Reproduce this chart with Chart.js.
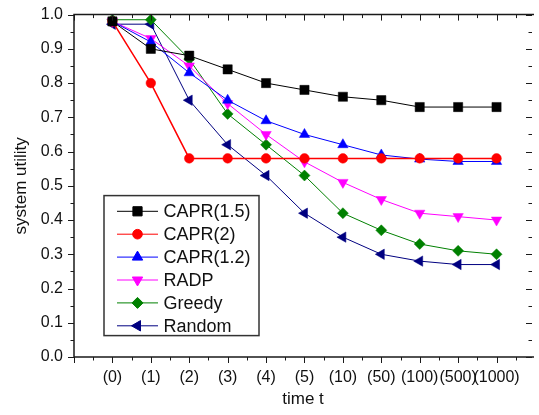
<!DOCTYPE html>
<html><head><meta charset="utf-8">
<script src="https://cdn.jsdelivr.net/npm/chart.js@4/dist/chart.umd.min.js"></script>
<style>html,body{margin:0;padding:0;background:#fff;overflow:hidden;} #wrap{width:539px;height:415px;position:relative;}</style>
</head><body><div id="wrap"><canvas id="c" width="539" height="415"></canvas></div>
<script>
const xLabels = ['(0)','(1)','(2)','(3)','(4)','(5)','(10)','(50)','(100)','(500)','(1000)'];
const seriesNames = ['CAPR(1.5)','CAPR(2)','CAPR(1.2)','RADP','Greedy','Random'];
const capr15 = [0.98,0.90,0.88,0.84,0.80,0.78,0.76,0.75,0.73,0.73,0.73];
const capr2  = [0.98,0.80,0.58,0.58,0.58,0.58,0.58,0.58,0.58,0.58,0.58];
const capr12 = [0.98,0.92,0.83,0.75,0.69,0.65,0.62,0.59,0.578,0.571,0.571];
const radp   = [0.98,0.93,0.85,0.74,0.65,0.57,0.51,0.46,0.42,0.41,0.40];
const greedy = [0.985,0.985,0.87,0.71,0.62,0.53,0.42,0.37,0.33,0.31,0.30];
const random = [0.972,0.972,0.75,0.62,0.53,0.42,0.35,0.30,0.28,0.27,0.27];
const yMin = 0, yMax = 1.0, yStep = 0.1;

const FONT = "'Liberation Sans', Arial, Helvetica, sans-serif";
const toPts = arr => arr.map((v, i) => ({x: i, y: v}));

const styles = [
  {color:'#000000', pointStyle:'rect', rotation:0, radius:6.5, lw:1},
  {color:'#FF0000', pointStyle:'circle', rotation:0, radius:4.8, lw:1.5},
  {color:'#0000FF', pointStyle:'triangle', rotation:0, radius:6, lw:1},
  {color:'#FF00FF', pointStyle:'triangle', rotation:180, radius:6, lw:1},
  {color:'#008000', pointStyle:'rectRot', rotation:0, radius:5.5, lw:1},
  {color:'#000080', pointStyle:'triangle', rotation:-90, radius:6, lw:1}
];
const allSeries = [capr15, capr2, capr12, radp, greedy, random];

const datasets = allSeries.map((s, i) => ({
  label: seriesNames[i],
  data: toPts(s),
  borderColor: styles[i].color,
  backgroundColor: styles[i].color,
  borderWidth: styles[i].lw,
  pointStyle: styles[i].pointStyle,
  rotation: styles[i].rotation,
  pointRadius: styles[i].radius,
  pointHoverRadius: styles[i].radius,
  pointBorderWidth: 0.5,
  pointBorderColor: styles[i].color,
  pointBackgroundColor: styles[i].color,
  tension: 0,
  fill: false
}));

const framePlugin = {
  id: 'frame',
  afterDraw(chart) {
    const {ctx, chartArea: a, scales} = chart;
    const xs = scales.x, ys = scales.y;
    ctx.save();
    ctx.strokeStyle = '#1a1a1a';
    ctx.lineWidth = 1.5;
    ctx.beginPath();
    ctx.moveTo(a.left, a.top); ctx.lineTo(a.left, a.bottom);
    ctx.moveTo(a.left - 0.75, a.bottom); ctx.lineTo(a.right + 2, a.bottom);
    ctx.moveTo(a.left - 0.75, a.top); ctx.lineTo(a.right + 2, a.top);
    ctx.stroke();
    ctx.lineWidth = 1;
    ctx.beginPath();
    for (let k = -2; k <= 23; k++) {
      const v = k / 2;
      if (v < xs.min - 1e-9 || v > xs.max + 1e-9) continue;
      const px = Math.round(xs.getPixelForValue(v)) + 0.5;
      const len = (k % 2 === 0) ? 6 : 3.5;
      ctx.moveTo(px, a.bottom); ctx.lineTo(px, a.bottom + len);
      ctx.moveTo(px, a.top); ctx.lineTo(px, a.top + len);
    }
    for (let k = 0; k <= 20; k++) {
      const v = k * 0.05;
      const py = Math.round(ys.getPixelForValue(v)) + 0.5;
      const len = (k % 2 === 0) ? 6 : 3.5;
      ctx.moveTo(a.left - len, py); ctx.lineTo(a.left, py);
      ctx.moveTo(a.right - len, py); ctx.lineTo(a.right, py);
    }
    ctx.stroke();
    ctx.restore();
  }
};

const legendPlugin = {
  id: 'customLegend',
  afterDraw(chart) {
    const {ctx, chartArea: a} = chart;
    const bx = a.left + 30, by = a.top + 181, bw = 155, bh = 140;
    ctx.save();
    ctx.fillStyle = '#fff';
    ctx.fillRect(bx, by, bw, bh);
    ctx.strokeStyle = '#333';
    ctx.lineWidth = 1.5;
    ctx.strokeRect(bx, by, bw, bh);
    chart.data.datasets.forEach((ds, i) => {
      const ry = by + 15.7 + i * 22.9;
      ctx.strokeStyle = ds.borderColor;
      ctx.lineWidth = 1;
      ctx.beginPath();
      ctx.moveTo(bx + 13, ry); ctx.lineTo(bx + 54, ry);
      ctx.stroke();
      ctx.fillStyle = ds.backgroundColor;
      ctx.strokeStyle = ds.borderColor;
      Chart.helpers.drawPoint(ctx, {pointStyle: ds.pointStyle, rotation: ds.rotation, radius: ds.pointRadius, borderWidth: 0.5}, bx + 33.5, ry);
      ctx.fillStyle = '#111';
      ctx.font = '18px ' + FONT;
      ctx.textBaseline = 'middle';
      ctx.textAlign = 'left';
      ctx.fillText(ds.label, bx + 59.5, ry + 1);
    });
    ctx.restore();
  }
};

new Chart(document.getElementById('c'), {
  type: 'line',
  data: { datasets },
  options: {
    responsive: false,
    devicePixelRatio: 1,
    animation: false,
    layout: { padding: { top: 12, right: 0, left: 0, bottom: 0 } },
    plugins: { legend: { display: false }, tooltip: { enabled: false } },
    scales: {
      x: {
        type: 'linear',
        min: -1,
        max: 10.923,
        grid: { drawOnChartArea: false, drawTicks: true, tickLength: 6, color: 'rgba(0,0,0,0)' },
        border: { display: false },
        ticks: {
          stepSize: 1, includeBounds: false, autoSkip: false, maxRotation: 0, padding: 5,
          color: '#111', font: { family: FONT, size: 16 },
          callback: v => (Number.isInteger(v) && xLabels[v] !== undefined) ? xLabels[v] : ''
        },
        title: { display: true, text: 'time t', color: '#111', font: { family: FONT, size: 17 }, padding: { top: 0, bottom: 5 } },
        afterFit: s => { s.height = 58; }
      },
      y: {
        min: yMin, max: yMax,
        grid: { drawOnChartArea: false, drawTicks: true, tickLength: 6, color: 'rgba(0,0,0,0)' },
        border: { display: false },
        ticks: {
          stepSize: yStep, padding: 5, color: '#111', font: { family: FONT, size: 16 },
          callback: v => v.toFixed(1)
        },
        title: { display: true, text: 'system utility', color: '#111', font: { family: FONT, size: 17 }, padding: { top: 11, bottom: 0 } },
        afterFit: s => { s.width = 74; }
      }
    }
  },
  plugins: [framePlugin, legendPlugin]
});
</script>
</body></html>
